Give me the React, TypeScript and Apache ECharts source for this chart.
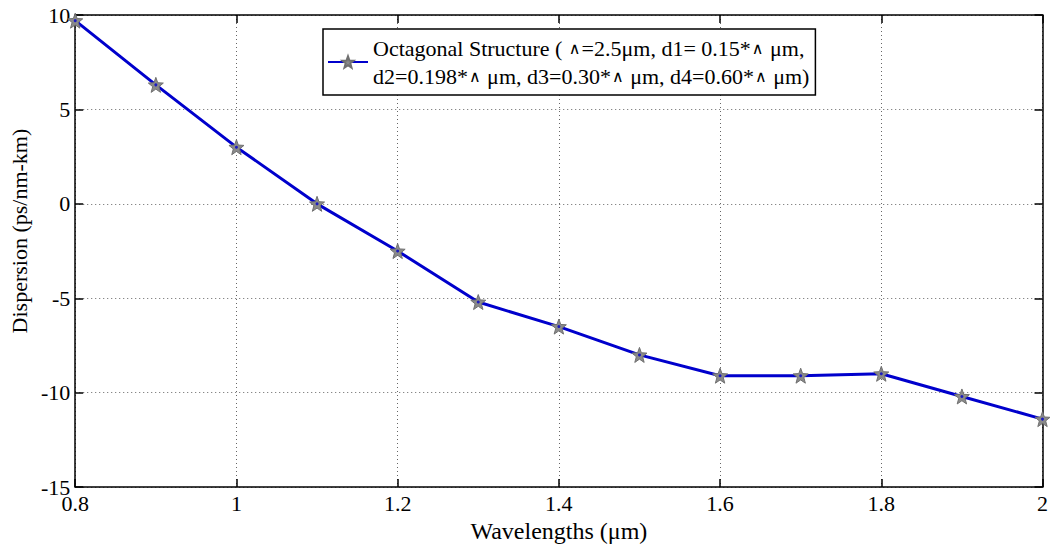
import React, { useEffect, useRef } from "react";
import * as echarts from "echarts";

const wavelengths = [0.8, 0.9, 1.0, 1.1, 1.2, 1.3, 1.4, 1.5, 1.6, 1.7, 1.8, 1.9, 2.0];
const dispersion = [9.7, 6.3, 3.0, 0.0, -2.5, -5.2, -6.5, -8.0, -9.1, -9.1, -9.0, -10.2, -11.4];
const seriesName = "Octagonal Structure ( \u2227=2.5\u03bcm, d1= 0.15*\u2227 \u03bcm,\nd2=0.198*\u2227 \u03bcm, d3=0.30*\u2227 \u03bcm, d4=0.60*\u2227 \u03bcm)";
const xTitle = "Wavelengths (\u03bcm)";
const yTitle = "Dispersion (ps/nm-km)";

const STAR = "path://M50,0 L62,33 L98,35 L70,57 L80,92 L50,72 L20,92 L30,57 L2,35 L38,33 Z";
const FONT = "'Liberation Serif', 'Times New Roman', serif";

export default function App() {
  const ref = useRef<HTMLDivElement>(null);
  useEffect(() => {
    document.body.style.margin = "0";
    const chart = echarts.init(ref.current!, null, { renderer: "svg" });
    const pts = wavelengths.map((x, i) => [x, dispersion[i]]);
    const fmt = (v: number) => String(+v.toFixed(1));
    const axisLine = { show: true, onZero: false, lineStyle: { color: "#000", width: 1.5 } };
    const tick = { show: true, inside: true, length: 8, lineStyle: { color: "#000", width: 1.5 } };
    const grid = { show: true, lineStyle: { color: "#666", type: [1, 3], width: 1 } };
    chart.setOption({
      animation: false,
      backgroundColor: "#fff",
      textStyle: { fontFamily: FONT },
      grid: { left: 75, top: 15, right: 8, bottom: 59, containLabel: false },
      legend: {
        data: [{ name: seriesName }],
        left: 323,
        top: 29,
        orient: "vertical",
        backgroundColor: "#fff",
        borderColor: "#000",
        borderWidth: 1.5,
        borderRadius: 0,
        padding: [5, 6, 5, 4],
        itemWidth: 40,
        itemHeight: 14,
        itemGap: 4,
        formatter: (name: string) =>
          name
            .split("\n")
            .map((l) => "{t|" + l.replace(/\u2227/g, "}{w|\u2227}{t|") + "}")
            .join("\n"),
        textStyle: {
          fontFamily: FONT,
          fontSize: 22,
          color: "#000",
          lineHeight: 28,
          rich: {
            t: { fontFamily: FONT, fontSize: 22, color: "#000", lineHeight: 28 },
            w: { fontFamily: "'DejaVu Sans'", fontSize: 16, color: "#000", lineHeight: 28, padding: [0, 1, 0, 1] },
          },
        },
      },
      xAxis: [
        {
          type: "value",
          min: 0.8,
          max: 2,
          interval: 0.2,
          name: xTitle,
          nameLocation: "middle",
          nameGap: 29,
          nameTextStyle: { fontFamily: FONT, fontSize: 24, color: "#000" },
          axisLine,
          axisTick: tick,
          axisLabel: { formatter: fmt, fontFamily: FONT, fontSize: 22, color: "#000", margin: 5 },
          splitLine: grid,
        },
        {
          type: "value",
          position: "top",
          min: 0.8,
          max: 2,
          interval: 0.2,
          axisLine,
          axisTick: tick,
          axisLabel: { show: false },
          splitLine: { show: false },
        },
      ],
      yAxis: [
        {
          type: "value",
          min: -15,
          max: 10,
          interval: 5,
          name: yTitle,
          nameLocation: "middle",
          nameGap: 42,
          nameTextStyle: { fontFamily: FONT, fontSize: 22, color: "#000", padding: [0, 0, 0, 40] },
          axisLine,
          axisTick: tick,
          axisLabel: { fontFamily: FONT, fontSize: 22, color: "#000", margin: 5 },
          splitLine: grid,
        },
        {
          type: "value",
          position: "right",
          min: -15,
          max: 10,
          interval: 5,
          axisLine,
          axisTick: tick,
          axisLabel: { show: false },
          splitLine: { show: false },
        },
      ],
      series: [
        {
          name: seriesName,
          type: "line",
          data: pts,
          symbol: STAR,
          symbolSize: 15,
          showAllSymbol: true,
          lineStyle: { color: "#0000cc", width: 3 },
          itemStyle: { color: "#8a8a8a", borderColor: "#707070", borderWidth: 1 },
          z: 3,
        },
        {
          name: "centers",
          type: "scatter",
          data: pts,
          symbol: "circle",
          symbolSize: 3,
          itemStyle: { color: "#0000cc" },
          z: 4,
          silent: true,
        },
      ],
    });
    return () => chart.dispose();
  }, []);
  return <div ref={ref} style={{ width: 1051, height: 548 }} />;
}
